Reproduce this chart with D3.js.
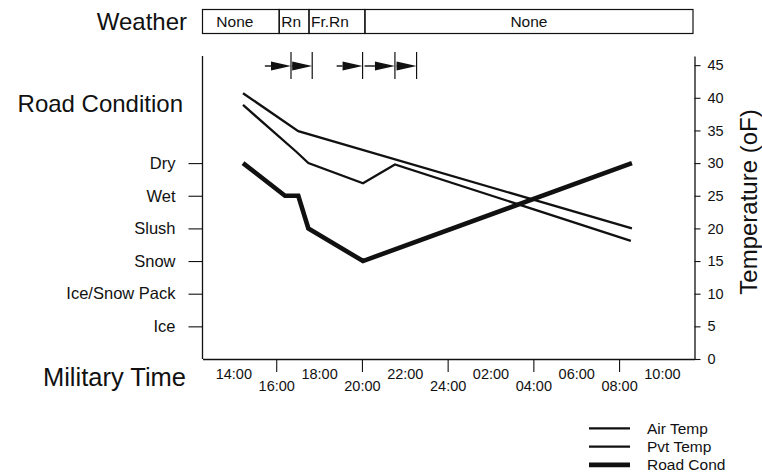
<!DOCTYPE html>
<html>
<head>
<meta charset="utf-8">
<script src="https://cdn.jsdelivr.net/npm/d3@7"></script>
<style>
  html, body { margin: 0; padding: 0; background: #fff; }
  svg { display: block; font-family: "Liberation Sans", Arial, Helvetica, sans-serif; }
</style>
</head>
<body>
<script>
// ---------- data (hours; values past 24 are the next morning) ----------
const roadCategories = ["Ice", "Ice/Snow Pack", "Snow", "Slush", "Wet", "Dry"];
const roadCategoryLevel = [5, 10, 15, 20, 25, 30];   // where each condition sits on the temperature scale

const airTime = [14.45, 17.03, 32.6];
const airTemp = [40.7, 34.9, 20.0];

const pvtTime = [14.45, 16.95, 17.5, 20.05, 21.54, 32.55];
const pvtTemp = [38.9, 31.7, 30.0, 26.9, 29.8, 18.1];

const roadTime = [14.45, 16.41, 17.03, 17.5, 20.05, 32.6];
const roadCond = ["Dry", "Wet", "Wet", "Slush", "Snow", "Dry"];

const weatherLabels = ["None", "Rn", "Fr.Rn", "None"];
const weatherBounds = [12.56, 16.14, 17.53, 20.14, 35.45];

const arrowStart = [15.47, 16.69, 18.82, 20.03, 21.54];
const arrowEnd   = [16.69, 17.68, 20.03, 21.54, 22.55];

const timeTicks  = [14, 16, 18, 20, 22, 24, 26, 28, 30, 32, 34];
const timeLabels = ["14:00", "16:00", "18:00", "20:00", "22:00", "24:00", "02:00", "04:00", "06:00", "08:00", "10:00"];

const tempTicks = [0, 5, 10, 15, 20, 25, 30, 35, 40, 45];

const legendNames = ["Air Temp", "Pvt Temp", "Road Cond"];

// ---------- layout ----------
const W = 762, H = 475;
const plotL = 202.5, plotR = 694.5, plotB = 359, plotT = 56;
const ink = "#111";

const svg = d3.select("body").append("svg").attr("width", W).attr("height", H);

const x = d3.scaleLinear().domain([12.56, 35.52]).range([plotL, plotR]);
const y = d3.scaleLinear().domain([0, 46.4]).range([plotB, plotT]);
const levelOf = d3.scaleOrdinal().domain(roadCategories).range(roadCategoryLevel);
const yCat = d3.scalePoint().domain(roadCategories).range([y(roadCategoryLevel[0]), y(roadCategoryLevel[roadCategoryLevel.length - 1])]);

// ---------- weather bar ----------
const wTop = 9.5, wBot = 33.5;
const wg = svg.append("g");
weatherLabels.forEach((lab, i) => {
  const x0 = x(weatherBounds[i]), x1 = x(weatherBounds[i + 1]);
  wg.append("rect").attr("x", x0).attr("y", wTop).attr("width", x1 - x0).attr("height", wBot - wTop)
    .attr("fill", "none").attr("stroke", ink).attr("stroke-width", 1.2);
  const narrow = (x1 - x0) < 60;
  wg.append("text")
    .attr("x", narrow ? x0 + 2 : (x0 + x1) / 2 - (i === 0 ? 6 : 0))
    .attr("y", (wTop + wBot) / 2 + 5.5)
    .attr("text-anchor", narrow ? "start" : "middle")
    .attr("font-size", 15.5).attr("fill", ink)
    .text(lab);
});
svg.append("text").attr("x", 187).attr("y", 30).attr("text-anchor", "end")
  .attr("font-size", 24).attr("fill", ink).text("Weather");

// ---------- arrows ----------
const ag = svg.append("g");
const arrowY = 66, headLen = 20, headHalf = 4.5;
arrowStart.forEach((s, i) => {
  const xs = x(s), xe = x(arrowEnd[i]);
  const hx = xe - headLen;
  if (hx > xs + 1) {
    ag.append("line").attr("x1", xs + (i > 0 && arrowStart[i] === arrowEnd[i - 1] ? 2 : 0)).attr("x2", hx)
      .attr("y1", arrowY).attr("y2", arrowY).attr("stroke", ink).attr("stroke-width", 1.4);
  }
  ag.append("path")
    .attr("d", `M${Math.max(hx, xs)},${arrowY - headHalf}L${xe},${arrowY}L${Math.max(hx, xs)},${arrowY + headHalf}Z`)
    .attr("fill", ink);
  ag.append("line").attr("x1", xe).attr("x2", xe).attr("y1", 52).attr("y2", 79)
    .attr("stroke", ink).attr("stroke-width", 1.2);
});

// ---------- axes ----------
// left (road condition)
svg.append("line").attr("x1", plotL).attr("x2", plotL).attr("y1", plotT).attr("y2", plotB)
  .attr("stroke", ink).attr("stroke-width", 1.3);
const leftAxis = svg.append("g").attr("transform", `translate(${plotL},0)`)
  .call(d3.axisLeft(yCat).tickSize(14).tickPadding(13));
leftAxis.select(".domain").remove();
leftAxis.selectAll("line").attr("stroke", ink).attr("stroke-width", 1.1);
leftAxis.selectAll("text").attr("font-size", 16.5).attr("fill", ink)
  .attr("font-family", "Liberation Sans, Arial, sans-serif");

svg.append("text").attr("x", 183).attr("y", 112).attr("text-anchor", "end")
  .attr("font-size", 24).attr("fill", ink).text("Road Condition");

// right (temperature)
const rightAxis = svg.append("g").attr("transform", `translate(${plotR},0)`)
  .call(d3.axisRight(y).tickValues(tempTicks).tickSize(6).tickSizeOuter(0).tickPadding(7));
rightAxis.select(".domain").attr("stroke", ink).attr("stroke-width", 1.3);
rightAxis.selectAll("line").attr("stroke", ink).attr("stroke-width", 1.1);
rightAxis.selectAll("text").attr("font-size", 14.5).attr("fill", ink)
  .attr("font-family", "Liberation Sans, Arial, sans-serif");

svg.append("text")
  .attr("transform", `translate(757,202) rotate(-90)`)
  .attr("text-anchor", "middle").attr("font-size", 24).attr("fill", ink)
  .text("Temperature (oF)");

// bottom (time)
const bottomAxis = svg.append("g").attr("transform", `translate(0,${plotB})`)
  .call(d3.axisBottom(x).tickValues(timeTicks).tickSizeOuter(0)
    .tickFormat((d, i) => timeLabels[i]));
bottomAxis.select(".domain").attr("stroke", ink).attr("stroke-width", 1.3);
bottomAxis.selectAll(".tick").each(function (d, i) {
  const t = d3.select(this);
  t.select("line").attr("stroke", ink).attr("stroke-width", 1.1)
    .attr("y2", i % 2 === 1 ? 13 : 0);
  t.select("text").attr("dy", null).attr("y", i % 2 === 1 ? 32 : 20)
    .attr("font-size", 14.5).attr("fill", ink)
    .attr("font-family", "Liberation Sans, Arial, sans-serif");
});

svg.append("text").attr("x", 186).attr("y", 386).attr("text-anchor", "end")
  .attr("font-size", 25.5).attr("fill", ink).text("Military Time");

// ---------- series ----------
const line = d3.line().x(d => x(d[0])).y(d => y(d[1]));
const airPts  = airTime.map((t, i) => [t, airTemp[i]]);
const pvtPts  = pvtTime.map((t, i) => [t, pvtTemp[i]]);
const roadPts = roadTime.map((t, i) => [t, levelOf(roadCond[i])]);

const seriesStyle = [
  { pts: airPts,  w: 2.3 },
  { pts: pvtPts,  w: 2.3 },
  { pts: roadPts, w: 4.6 }
];
seriesStyle.forEach(s => {
  svg.append("path").attr("d", line(s.pts)).attr("fill", "none")
    .attr("stroke", ink).attr("stroke-width", s.w)
    .attr("stroke-linejoin", "miter").attr("stroke-linecap", "butt");
});

// ---------- legend ----------
const lg = svg.append("g");
legendNames.forEach((name, i) => {
  const ly = 428.3 + i * 18.3;
  lg.append("line").attr("x1", 589).attr("x2", 630).attr("y1", ly).attr("y2", ly)
    .attr("stroke", ink).attr("stroke-width", seriesStyle[i].w);
  lg.append("text").attr("x", 647).attr("y", ly + 5.5).attr("font-size", 15.5)
    .attr("fill", ink).text(name);
});
</script>
</body>
</html>
